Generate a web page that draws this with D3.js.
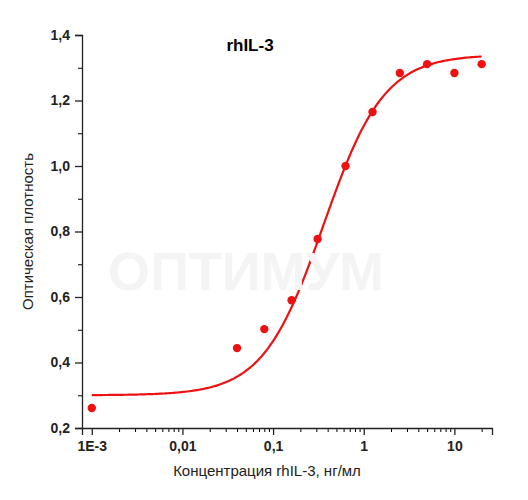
<!DOCTYPE html>
<html><head><meta charset="utf-8">
<script src="https://cdn.jsdelivr.net/npm/d3@7"></script>
<style>body{margin:0;background:#fff}</style>
</head><body><div id="chart"></div>
<script>
var concentrations = [0.001, 0.04, 0.08, 0.16, 0.31, 0.63, 1.25, 2.5, 5, 10, 20];
var density = [0.261, 0.444, 0.502, 0.59, 0.777, 1.0, 1.165, 1.284, 1.311, 1.284, 1.311];
// 4PL fit parameters: bottom, top, EC50, hill
var fitParams = [0.30, 1.34, 0.36, 1.3];
var yTicks = [0.2, 0.4, 0.6, 0.8, 1.0, 1.2, 1.4];
var xTicks = [0.001, 0.01, 0.1, 1, 10];
var xTickLabels = ["1E-3", "0,01", "0,1", "1", "10"];

var svgWidth = 528, svgHeight = 500;
var margin = {top: 35, right: 36, bottom: 72, left: 82};
var width = svgWidth - margin.left - margin.right;
var height = svgHeight - margin.top - margin.bottom;

var svg = d3.select("#chart").append("svg")
  .attr("width", svgWidth).attr("height", svgHeight)
  .style("font-family", "Arial, 'Liberation Sans', sans-serif");

var g = svg.append("g").attr("transform", `translate(${margin.left},${margin.top})`);

// watermark
svg.append("text").attr("x", 246).attr("y", 290).attr("text-anchor", "middle")
  .style("font-size", "54px").style("font-weight", "bold").style("fill", "#f4f4f4")
  .text("ОПТИМУМ");

var x = d3.scaleLog().domain([0.00078, 26]).range([0, width]);
var y = d3.scaleLinear().domain([0.2, 1.4]).range([height, 0]);

// minor ticks
var minorX = [];
for (var e = -3; e <= 1; e++) for (var k = 2; k <= 9; k++) {
  var v = k * Math.pow(10, e);
  if (v <= 26) minorX.push(v);
}
g.append("g").attr("transform", `translate(0,${height})`)
  .call(d3.axisBottom(x).tickValues(minorX).tickSize(4).tickFormat(""))
  .call(a => a.select(".domain").remove());
g.append("g")
  .call(d3.axisLeft(y).tickValues([0.3, 0.5, 0.7, 0.9, 1.1, 1.3]).tickSize(4).tickFormat(""))
  .call(a => a.select(".domain").remove());

var xAxis = g.append("g").attr("transform", `translate(0,${height})`)
  .call(d3.axisBottom(x).tickValues(xTicks).tickSize(7).tickPadding(6)
    .tickFormat((d, i) => xTickLabels[i]));
var yAxis = g.append("g")
  .call(d3.axisLeft(y).tickValues(yTicks).tickSize(7).tickPadding(5)
    .tickFormat(d => d3.format(".1f")(d).replace(".", ",")));
[xAxis, yAxis].forEach(a => {
  a.selectAll("text").style("font-size", "14px").style("font-weight", "bold").attr("fill", "#222");
  a.selectAll("line,path").attr("stroke", "#222").attr("stroke-width", 1.3);
});

// fitted curve
function fourPL(c) {
  return fitParams[0] + (fitParams[1] - fitParams[0]) / (1 + Math.pow(fitParams[2] / c, fitParams[3]));
}
var curveX = d3.range(0, 201).map(i => Math.pow(10, -3 + i * (Math.log10(20) + 3) / 200));
g.append("path").datum(curveX)
  .attr("fill", "none").attr("stroke", "#ee1111").attr("stroke-width", 2.2)
  .attr("d", d3.line().x(d => x(d)).y(d => y(fourPL(d))));

g.selectAll("circle").data(concentrations).enter().append("circle")
  .attr("cx", d => x(d)).attr("cy", (d, i) => y(density[i]))
  .attr("r", 4.2).attr("fill", "#ee1111");

svg.append("text").attr("x", 250).attr("y", 51).attr("text-anchor", "middle")
  .style("font-size", "17px").style("font-weight", "bold").text("rhIL-3");

svg.append("text").attr("x", margin.left + width / 2 - 20).attr("y", 476).attr("text-anchor", "middle")
  .style("font-size", "15px").attr("fill", "#222").text("Концентрация rhIL-3, нг/мл");
svg.append("text").attr("transform", `translate(33,${margin.top + height / 2}) rotate(-90)`)
  .attr("text-anchor", "middle").style("font-size", "15px").attr("fill", "#222")
  .text("Оптическая плотность");
</script></body></html>
